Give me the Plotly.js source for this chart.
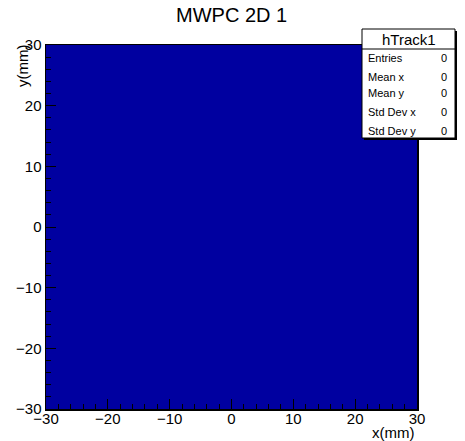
<!DOCTYPE html>
<html>
<head>
<meta charset="utf-8">
<script src="https://cdn.plot.ly/plotly-3.0.1.min.js"></script>
<style>html,body{margin:0;padding:0;background:#fff;}#plot{width:465px;height:441px;}</style>
</head>
<body>
<div id="plot"></div>
<script>
// ---- data ----
var xEdges = [-30, 30];
var yEdges = [-30, 30];
var binCounts = [[0]];
var xTickVals = [-30, -20, -10, 0, 10, 20, 30];
var yTickVals = [-30, -20, -10, 0, 10, 20, 30];
var statsTitle = "hTrack1";
var statsLabels = ["Entries", "Mean x", "Mean y", "Std Dev x", "Std Dev y"];
var statsValues = [0, 0, 0, 0, 0];
var chartTitle = "MWPC 2D 1";
var xTitle = "x(mm)";
var yTitle = "y(mm)";

// ---- layout geometry ----
var W = 465, H = 441;
var L = 46, R = 417, T = 45, B = 409;
function px(x){ return (x - L) / (R - L); }
function py(y){ return (B - y) / (B - T); }
var FONT = "Liberation Sans, Arial, sans-serif";
var blue = "#0000a0";

var trace = {
  type: "heatmap",
  x: xEdges, y: yEdges, z: binCounts,
  zmin: 0, zmax: 1,
  colorscale: [[0, blue], [1, blue]],
  showscale: false, hoverinfo: "skip"
};

var annotations = [
  {text: chartTitle, xref: "paper", yref: "paper", x: px(231), y: py(15), xanchor: "center", yanchor: "middle", showarrow: false, font: {family: FONT, size: 20, color: "#000"}},
  {text: xTitle, xref: "paper", yref: "paper", x: px(416), y: py(432), xanchor: "right", yanchor: "middle", showarrow: false, font: {family: FONT, size: 15, color: "#000"}},
  {text: yTitle, xref: "paper", yref: "paper", x: px(22), y: py(43), xanchor: "center", yanchor: "top", textangle: -90, showarrow: false, font: {family: FONT, size: 15, color: "#000"}},
  {text: statsTitle, xref: "paper", yref: "paper", x: px(408.5), y: py(39), xanchor: "center", yanchor: "middle", showarrow: false, font: {family: FONT, size: 15, color: "#000"}}
];
var rowY = [58, 77, 93, 112, 131];
for (var i = 0; i < statsLabels.length; i++) {
  annotations.push({text: statsLabels[i], xref: "paper", yref: "paper", x: px(366), y: py(rowY[i]), xanchor: "left", yanchor: "middle", showarrow: false, font: {family: FONT, size: 11, color: "#000"}});
  annotations.push({text: String(statsValues[i]), xref: "paper", yref: "paper", x: px(449), y: py(rowY[i]), xanchor: "right", yanchor: "middle", showarrow: false, font: {family: FONT, size: 11, color: "#000"}});
}

var shapes = [
  {type: "rect", xref: "paper", yref: "paper", x0: px(364), x1: px(457), y0: py(140), y1: py(31), fillcolor: "#000", line: {width: 0}},
  {type: "rect", xref: "paper", yref: "paper", x0: px(362), x1: px(455), y0: py(138), y1: py(29), fillcolor: "#fff", line: {color: "#000", width: 1}},
  {type: "line", xref: "paper", yref: "paper", x0: px(362), x1: px(455), y0: py(49), y1: py(49), line: {color: "#000", width: 1}}
];

var axisCommon = {
  range: [-30, 30], autorange: false,
  tickmode: "array",
  ticks: "inside", ticklen: 10, tickwidth: 1, tickcolor: "#000",
  showline: true, linecolor: "#000", linewidth: 1.5, mirror: true,
  showgrid: false, zeroline: false,
  tickfont: {family: FONT, size: 15, color: "#000"},
  minor: {ticks: "inside", ticklen: 5, dtick: 2, tick0: 0, tickcolor: "#000", tickwidth: 1, showgrid: false},
  fixedrange: true
};
function fmt(v){ return v < 0 ? "\u2212" + Math.abs(v) : String(v); }
var xaxis = Object.assign({}, axisCommon, {tickvals: xTickVals, ticktext: xTickVals.map(fmt), ticklabelstandoff: -5});
var yaxis = Object.assign({}, axisCommon, {tickvals: yTickVals, ticktext: yTickVals.map(fmt), ticklabelstandoff: 0});

var layout = {
  width: W, height: H,
  margin: {l: L, r: W - R, t: T, b: H - B, pad: 0},
  paper_bgcolor: "#fff", plot_bgcolor: blue,
  xaxis: xaxis, yaxis: yaxis,
  annotations: annotations, shapes: shapes,
  showlegend: false
};

Plotly.newPlot("plot", [trace], layout, {staticPlot: true, displayModeBar: false});
</script>
</body>
</html>
